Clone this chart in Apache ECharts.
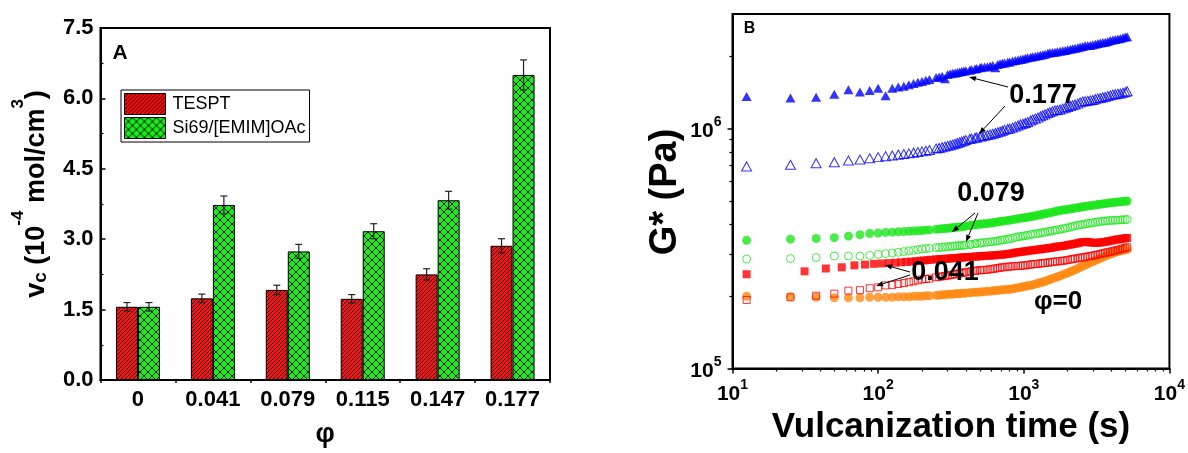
<!DOCTYPE html>
<html><head><meta charset="utf-8">
<script src="https://cdn.jsdelivr.net/npm/echarts@6/dist/echarts.min.js"></script>
<style>html,body{margin:0;padding:0;background:#fff}#c{width:1188px;height:453px}</style>
</head><body><div id="c"></div>
<script>
// ---------- Panel A data ----------
const PHI_LABELS = ['0', '0.041', '0.079', '0.115', '0.147', '0.177'];
const TESPT = [1.56, 1.74, 1.92, 1.73, 2.25, 2.86];
const TESPT_ERR = [0.09, 0.09, 0.10, 0.09, 0.12, 0.15];
const SI69 = [1.56, 3.73, 2.74, 3.17, 3.83, 6.50];
const SI69_ERR = [0.09, 0.19, 0.15, 0.16, 0.19, 0.32];
const Y_A_MIN = 0, Y_A_MAX = 7.5, Y_A_STEP = 1.5;

// ---------- Panel B data: time in s, G* in units of 1e5 Pa ----------
const G_UNIT = 1e5;
const X_MAJOR_B = [10, 100, 1000, 10000];
const X_MINOR_B = [20, 30, 40, 50, 60, 70, 80, 90, 200, 300, 400, 500, 600, 700, 800, 900, 2000, 3000, 4000, 5000, 6000, 7000, 8000, 9000];
const Y_MAJOR_B = [1e5, 1e6];
const Y_MINOR_B = [2e5, 3e5, 4e5, 5e5, 6e5, 7e5, 8e5, 9e5, 2e6];

const TIMES_EARLY = [12.5, 25, 37.5, 50, 62.5, 75, 87.5, 100, 112.5, 125, 137.5, 150, 162.5, 175, 187.5, 200, 212.5, 225];
const TIMES_EARLY_SQ = [12.5, 31.25, 43.75, 56.25, 68.75, 81.25, 93.75, 106.25, 118.75, 131.25, 143.75, 156.25, 168.75, 181.25, 193.75, 206.25, 218.75, 231.25];
const TIMES_LATE = [250, 262.5, 275, 287.5, 300, 312.5, 325, 337.5, 350, 362.5, 375,
  387.5, 400, 425, 437.5, 462.5, 475, 500, 512.5, 537.5, 562.5, 587.5,
  612.5, 637.5, 662.5, 687.5, 712.5, 737.5, 775, 800, 837.5, 875, 912.5,
  950, 987.5, 1025, 1062.5, 1112.5, 1150, 1200, 1250, 1300, 1350, 1400,
  1462.5, 1512.5, 1575, 1637.5, 1700, 1775, 1850, 1925, 2000, 2087.5, 2162.5,
  2250, 2350, 2437.5, 2537.5, 2637.5, 2750, 2862.5, 2975, 3100, 3225, 3350,
  3487.5, 3625, 3775, 3925, 4087.5, 4250, 4425, 4600, 4787.5, 4975, 5125];

// phi = 0.177, filled triangles
const G_177_FILLED = [13.6, 13.4, 13.5, 13.9, 14.5, 14.2, 14.4, 14.7, 13.7, 14.7, 14.9, 15.0, 15.2, 15.4, 15.6, 15.7, 15.9, 16.0,
  16.3, 16.4, 16.5, 16.1, 16.8, 16.9, 17.0, 17.05, 17.1, 17.2, 17.3,
  17.35, 17.4, 17.5, 17.6, 17.7, 17.8, 17.9, 18.0, 18.05, 18.1, 18.2,
  18.3, 17.9, 18.5, 18.6, 18.7, 18.75, 18.9, 18.95, 19.1, 19.2, 19.3,
  19.4, 19.5, 19.6, 19.7, 19.8, 19.9, 20.0, 20.1, 20.2, 20.3, 20.4,
  20.6, 20.7, 20.75, 20.8, 20.9, 21.0, 21.1, 21.15, 21.3, 21.4, 21.5,
  21.6, 21.7, 21.85, 21.95, 22.1, 22.15, 22.2, 22.35, 22.45, 22.6, 22.7,
  22.8, 22.9, 23.05, 23.25, 23.4, 23.5, 23.6, 23.7, 23.9, 24.05, 24.1];
// phi = 0.177, open triangles
const G_177_OPEN = [6.95, 7.06, 7.17, 7.24, 7.36, 7.43, 7.52, 7.60, 7.67, 7.72, 7.78, 7.83, 7.88, 7.93, 7.98, 8.03, 8.08, 8.13,
  8.25, 8.30, 8.36, 8.41, 8.47, 8.52, 8.58, 8.64, 8.70, 8.76, 8.82,
  8.88, 8.95, 9.04, 9.08, 9.15, 9.18, 9.25, 9.28, 9.33, 9.39, 9.45,
  9.51, 9.58, 9.65, 9.72, 9.79, 9.87, 9.96, 10.0, 10.1, 10.2, 10.3,
  10.4, 10.47, 10.55, 10.65, 10.8, 10.9, 11.0, 11.1, 11.25, 11.35, 11.45,
  11.6, 11.7, 11.8, 11.9, 11.95, 12.0, 12.1, 12.2, 12.3, 12.4, 12.5,
  12.6, 12.7, 12.85, 12.95, 13.0, 13.05, 13.1, 13.15, 13.25, 13.35, 13.4,
  13.5, 13.55, 13.65, 13.75, 13.85, 13.9, 13.95, 14.0, 14.1, 14.2, 14.3];
// phi = 0.079, filled circles
const G_079_FILLED = [3.42, 3.46, 3.48, 3.51, 3.56, 3.61, 3.65, 3.67, 3.69, 3.70, 3.71, 3.72, 3.73, 3.74, 3.75, 3.76, 3.77, 3.78,
  3.80, 3.81, 3.82, 3.83, 3.84, 3.85, 3.86, 3.87, 3.88, 3.89, 3.90,
  3.91, 3.92, 3.94, 3.95, 3.97, 3.98, 3.99, 4.00, 4.01, 4.02, 4.04,
  4.05, 4.07, 4.08, 4.10, 4.11, 4.12, 4.14, 4.15, 4.17, 4.19, 4.21,
  4.23, 4.24, 4.26, 4.27, 4.29, 4.31, 4.33, 4.35, 4.37, 4.39, 4.41,
  4.44, 4.46, 4.48, 4.51, 4.53, 4.55, 4.57, 4.59, 4.60, 4.62, 4.64,
  4.66, 4.68, 4.70, 4.72, 4.73, 4.75, 4.77, 4.78, 4.80, 4.82, 4.83,
  4.85, 4.87, 4.88, 4.90, 4.91, 4.93, 4.94, 4.95, 4.96, 4.98, 4.99];
// phi = 0.079, open circles
const G_079_OPEN = [2.86, 2.87, 2.90, 2.94, 2.94, 2.94, 2.96, 2.99, 3.01, 3.03, 3.05, 3.07, 3.09, 3.11, 3.13, 3.15, 3.16, 3.17,
  3.19, 3.19, 3.20, 3.21, 3.22, 3.22, 3.23, 3.24, 3.25, 3.25, 3.26,
  3.26, 3.27, 3.28, 3.29, 3.31, 3.32, 3.33, 3.34, 3.35, 3.36, 3.37,
  3.38, 3.39, 3.40, 3.42, 3.43, 3.44, 3.46, 3.47, 3.49, 3.52, 3.54,
  3.55, 3.56, 3.58, 3.59, 3.61, 3.63, 3.64, 3.65, 3.67, 3.68, 3.70,
  3.72, 3.73, 3.75, 3.77, 3.78, 3.80, 3.82, 3.84, 3.86, 3.88, 3.91,
  3.93, 3.95, 3.97, 3.98, 4.00, 4.02, 4.03, 4.05, 4.07, 4.08, 4.09,
  4.11, 4.12, 4.13, 4.14, 4.14, 4.15, 4.15, 4.16, 4.17, 4.17, 4.18];
// phi = 0.041, filled squares (own early sampling times)
const G_041_FILLED = [2.47, 2.54, 2.61, 2.64, 2.69, 2.71, 2.73, 2.74, 2.75, 2.76, 2.77, 2.78, 2.79, 2.80, 2.81, 2.82, 2.83, 2.84,
  2.85, 2.855, 2.86, 2.865, 2.87, 2.875, 2.88, 2.885, 2.89, 2.895, 2.90,
  2.905, 2.91, 2.915, 2.92, 2.925, 2.93, 2.935, 2.94, 2.945, 2.95, 2.955,
  2.96, 2.965, 2.97, 2.975, 2.98, 2.99, 3.00, 3.01, 3.02, 3.04, 3.05,
  3.06, 3.07, 3.08, 3.09, 3.10, 3.11, 3.12, 3.13, 3.14, 3.15, 3.16,
  3.17, 3.18, 3.19, 3.21, 3.22, 3.23, 3.24, 3.25, 3.27, 3.28, 3.30,
  3.31, 3.33, 3.35, 3.36, 3.37, 3.37, 3.35, 3.34, 3.34, 3.34, 3.35,
  3.36, 3.37, 3.39, 3.40, 3.42, 3.44, 3.45, 3.46, 3.48, 3.49, 3.50];
// phi = 0.041, open squares
const G_041_OPEN = [1.93, 1.98, 2.01, 2.05, 2.11, 2.12, 2.16, 2.18, 2.22, 2.23, 2.25, 2.27, 2.29, 2.31, 2.33, 2.35, 2.36, 2.37,
  2.40, 2.41, 2.42, 2.43, 2.44, 2.45, 2.46, 2.47, 2.48, 2.49, 2.50,
  2.51, 2.52, 2.53, 2.54, 2.55, 2.56, 2.565, 2.57, 2.575, 2.58, 2.59,
  2.60, 2.61, 2.62, 2.63, 2.64, 2.645, 2.655, 2.66, 2.665, 2.67, 2.675,
  2.68, 2.685, 2.69, 2.70, 2.71, 2.72, 2.725, 2.73, 2.74, 2.75, 2.755,
  2.76, 2.77, 2.78, 2.79, 2.795, 2.80, 2.81, 2.82, 2.83, 2.845, 2.86,
  2.87, 2.88, 2.895, 2.905, 2.915, 2.93, 2.94, 2.955, 2.97, 2.985, 3.00,
  3.02, 3.035, 3.05, 3.065, 3.085, 3.10, 3.12, 3.14, 3.16, 3.18, 3.20];
// phi = 0, filled circles
const G_0 = [2.00, 1.99, 1.98, 1.97, 1.97, 1.97, 1.98, 1.98, 1.98, 1.98, 1.99, 1.99, 1.99, 2.00, 2.00, 2.00, 2.01, 2.01,
  2.02, 2.02, 2.03, 2.03, 2.04, 2.04, 2.04, 2.05, 2.05, 2.05, 2.06,
  2.06, 2.06, 2.07, 2.07, 2.08, 2.08, 2.08, 2.09, 2.09, 2.10, 2.10,
  2.11, 2.11, 2.12, 2.12, 2.13, 2.13, 2.14, 2.14, 2.15, 2.16, 2.17,
  2.18, 2.19, 2.20, 2.21, 2.22, 2.23, 2.25, 2.26, 2.28, 2.29, 2.31,
  2.33, 2.35, 2.37, 2.39, 2.41, 2.43, 2.46, 2.48, 2.50, 2.53, 2.55,
  2.58, 2.61, 2.64, 2.67, 2.70, 2.73, 2.76, 2.79, 2.82, 2.85, 2.88,
  2.91, 2.94, 2.97, 3.00, 3.02, 3.05, 3.07, 3.09, 3.11, 3.12, 3.13];

const TIMES = TIMES_EARLY.concat(TIMES_LATE);
const TIMES_SQ = TIMES_EARLY_SQ.concat(TIMES_LATE);
function pairs(ts, gs) { return gs.map((g, i) => [ts[i], g * G_UNIT]); }

// ---------- styling helpers ----------
const FONT = "'Liberation Sans', Arial, Helvetica, sans-serif";
function hatch(bg, period, cross) {
  const c = document.createElement('canvas');
  c.width = period; c.height = period;
  const g = c.getContext('2d');
  g.fillStyle = bg; g.fillRect(0, 0, period, period);
  g.strokeStyle = '#000'; g.lineWidth = 0.9;
  g.beginPath();
  g.moveTo(-1, period + 1); g.lineTo(period + 1, -1);
  g.moveTo(-1, 1); g.lineTo(1, -1);
  g.moveTo(period - 1, period + 1); g.lineTo(period + 1, period - 1);
  if (cross) {
    g.moveTo(-1, -1); g.lineTo(period + 1, period + 1);
    g.moveTo(period - 1, -1); g.lineTo(period + 1, 1);
    g.moveTo(-1, period - 1); g.lineTo(1, period + 1);
  }
  g.stroke();
  return c;
}
const RED_PAT = { image: hatch('#ff1010', 4, false), repeat: 'repeat' };
const GREEN_PAT = { image: hatch('#1aeb1a', 8, true), repeat: 'repeat' };

function errRender(offset) {
  return function (params, api) {
    const i = api.value(0), v = api.value(1), e = api.value(2);
    const top = api.coord([i, v + e]), bot = api.coord([i, v - e]);
    const x = top[0] + offset, hw = 3.5;
    const st = { stroke: '#222', lineWidth: 1.2 };
    return { type: 'group', children: [
      { type: 'line', shape: { x1: x, y1: top[1], x2: x, y2: bot[1] }, style: st },
      { type: 'line', shape: { x1: x - hw, y1: top[1], x2: x + hw, y2: top[1] }, style: st },
      { type: 'line', shape: { x1: x - hw, y1: bot[1], x2: x + hw, y2: bot[1] }, style: st }
    ] };
  };
}
function powLabel(v) {
  const e = Math.log10(v), r = Math.round(e);
  if (Math.abs(e - r) > 1e-6) return '';
  return '{b|10}{s|' + r + '}';
}
const POW_RICH = {
  b: { fontSize: 21, fontWeight: 'bold', fontFamily: FONT, color: '#000', lineHeight: 26, verticalAlign: 'bottom' },
  s: { fontSize: 14, fontWeight: 'bold', fontFamily: FONT, color: '#000', lineHeight: 14, verticalAlign: 'top' }
};
function arrow(x1, y1, x2, y2) {
  const a = Math.atan2(y2 - y1, x2 - x1), L = 7, W = 2.6;
  const bx = x2 - L * Math.cos(a), by = y2 - L * Math.sin(a);
  return [
    { type: 'line', z: 100, shape: { x1: x1, y1: y1, x2: bx, y2: by }, style: { stroke: '#000', lineWidth: 1 } },
    { type: 'polygon', z: 100, shape: { points: [[x2, y2], [bx - W * Math.sin(a), by + W * Math.cos(a)], [bx + W * Math.sin(a), by - W * Math.cos(a)]] }, style: { fill: '#000' } }
  ];
}
function label(text, x, y, size, extra) {
  return Object.assign({ type: 'text', z: 100, x: x, y: y, style: { text: text, fill: '#000', font: 'bold ' + size + 'px ' + FONT, align: 'center', verticalAlign: 'middle' } }, extra || {});
}

const axisLineStyle = { lineStyle: { color: '#000', width: 2 } };
const tickFont = { fontSize: 22, fontWeight: 'bold', fontFamily: FONT, color: '#000' };

const graphics = [
  label('A', 120, 53, 21),
  label('B', 749.5, 29, 16),
  label('0.177', 1043, 96, 27),
  label('0.079', 991, 194, 27),
  label('0.041', 945, 273, 27),
  label('φ=0', 1058, 302, 26),
  {
    type: 'text', z: 100, x: 30, y: 194, rotation: Math.PI / 2,
    style: {
      text: '{b|v}{sub|c}{b| (10}{sup|-4}{b| mol/cm}{sup|3}{b|)}',
      align: 'center', verticalAlign: 'middle', fill: '#000',
      rich: {
        b: { fontSize: 27, fontWeight: 'bold', fontFamily: FONT, fill: '#000', lineHeight: 40, verticalAlign: 'bottom' },
        sub: { fontSize: 19, fontWeight: 'bold', fontFamily: FONT, fill: '#000', lineHeight: 19, verticalAlign: 'bottom' },
        sup: { fontSize: 17, fontWeight: 'bold', fontFamily: FONT, fill: '#000', lineHeight: 17, verticalAlign: 'top' }
      }
    }
  },
  label('G* (Pa)', 666, 192, 38, { rotation: Math.PI / 2 })
].concat(
  arrow(1008, 87, 969, 77),
  arrow(1005, 106, 979, 134),
  arrow(975, 213, 952, 232),
  arrow(978, 213, 966, 242),
  arrow(910, 272, 885, 265),
  arrow(910, 275, 876, 286)
);

const option = {
  animation: false,
  backgroundColor: '#fff',
  grid: [
    { left: 100.5, top: 28, width: 449.5, height: 360, show: true, borderColor: '#000', borderWidth: 2, backgroundColor: 'transparent' },
    { left: 732.5, top: 14, width: 438, height: 354.5, show: true, borderColor: '#000', borderWidth: 2, backgroundColor: 'transparent' }
  ],
  legend: {
    data: ['TESPT', 'Si69/[EMIM]OAc'],
    orient: 'vertical', left: 121, top: 90,
    itemWidth: 41, itemHeight: 21, itemGap: 2,
    padding: [3, 4, 3, 3],
    borderColor: '#000', borderWidth: 1, backgroundColor: '#fff',
    icon: 'rect',
    itemStyle: { borderColor: '#000', borderWidth: 1 },
    textStyle: { fontSize: 18, fontFamily: FONT, color: '#000', padding: [0, 0, 0, 2] },
    selectedMode: false
  },
  xAxis: [
    {
      gridIndex: 0, type: 'category', data: PHI_LABELS,
      axisLine: axisLineStyle,
      axisTick: { show: true, inside: false, length: 3, lineStyle: { color: '#000', width: 1.5 } },
      axisLabel: Object.assign({ margin: 9 }, tickFont),
      splitLine: { show: false },
      name: 'φ', nameLocation: 'middle', nameGap: 41,
      nameTextStyle: { fontSize: 27, fontWeight: 'bold', fontFamily: FONT, color: '#000' }
    },
    {
      gridIndex: 1, type: 'log', logBase: 10, min: 10, max: 10000, position: 'bottom',
      axisLine: axisLineStyle,
      axisTick: { show: true, inside: false, length: 5, customValues: X_MAJOR_B, lineStyle: { color: '#000', width: 1.5 } },
      axisLabel: { customValues: X_MAJOR_B, formatter: powLabel, rich: POW_RICH, margin: 10 },
      splitLine: { show: false }, minorTick: { show: false },
      name: 'Vulcanization time (s)', nameLocation: 'middle', nameGap: 41,
      nameTextStyle: { fontSize: 35, fontWeight: 'bold', fontFamily: FONT, color: '#000' }
    },
    {
      gridIndex: 1, type: 'log', logBase: 10, min: 10, max: 10000, position: 'bottom',
      axisLine: { show: false },
      axisTick: { show: true, inside: false, length: 3, customValues: X_MINOR_B, lineStyle: { color: '#000', width: 1.2 } },
      axisLabel: { show: false }, splitLine: { show: false }
    }
  ],
  yAxis: [
    {
      gridIndex: 0, type: 'value', min: Y_A_MIN, max: Y_A_MAX, interval: Y_A_STEP,
      axisLine: Object.assign({ show: true }, axisLineStyle),
      axisTick: { show: true, inside: true, length: 5, lineStyle: { color: '#000', width: 1.5 } },
      minorTick: { show: true, splitNumber: 2, length: 3, lineStyle: { color: '#000', width: 1.2 } },
      axisLabel: Object.assign({ margin: 7, formatter: v => v.toFixed(1) }, tickFont),
      splitLine: { show: false }
    },
    {
      gridIndex: 1, type: 'log', logBase: 10, min: 1e5, max: 3e6, position: 'left',
      axisLine: Object.assign({ show: true }, axisLineStyle),
      axisTick: { show: true, inside: false, length: 5, customValues: Y_MAJOR_B, lineStyle: { color: '#000', width: 1.5 } },
      axisLabel: { customValues: Y_MAJOR_B, formatter: powLabel, rich: POW_RICH, margin: 11 },
      splitLine: { show: false }, minorTick: { show: false }
    },
    {
      gridIndex: 1, type: 'log', logBase: 10, min: 1e5, max: 3e6, position: 'left',
      axisLine: { show: false },
      axisTick: { show: true, inside: false, length: 3, customValues: Y_MINOR_B, lineStyle: { color: '#000', width: 1.2 } },
      axisLabel: { show: false }, splitLine: { show: false }
    }
  ],
  series: [
    { name: 'TESPT', type: 'bar', xAxisIndex: 0, yAxisIndex: 0, data: TESPT, barWidth: 22, barGap: '0%',
      itemStyle: { color: RED_PAT, borderColor: '#000', borderWidth: 1 } },
    { name: 'Si69/[EMIM]OAc', type: 'bar', xAxisIndex: 0, yAxisIndex: 0, data: SI69, barWidth: 22, barGap: '0%',
      itemStyle: { color: GREEN_PAT, borderColor: '#000', borderWidth: 1 } },
    { name: 'errT', type: 'custom', xAxisIndex: 0, yAxisIndex: 0, z: 5, renderItem: errRender(-11),
      data: TESPT.map((v, i) => [i, v, TESPT_ERR[i]]) },
    { name: 'errS', type: 'custom', xAxisIndex: 0, yAxisIndex: 0, z: 5, renderItem: errRender(11),
      data: SI69.map((v, i) => [i, v, SI69_ERR[i]]) },

    { name: 'phi0', type: 'scatter', xAxisIndex: 1, yAxisIndex: 1, symbol: 'circle', symbolSize: 9,
      itemStyle: { color: '#ff8a14' }, data: pairs(TIMES, G_0) },
    { name: 'p041f', type: 'scatter', xAxisIndex: 1, yAxisIndex: 1, symbol: 'rect', symbolSize: 8,
      itemStyle: { color: '#ff0000' }, data: pairs(TIMES_SQ, G_041_FILLED) },
    { name: 'p041o', type: 'scatter', xAxisIndex: 1, yAxisIndex: 1, symbol: 'rect', symbolSize: 7,
      itemStyle: { color: 'rgba(255,255,255,0)', borderColor: '#ff0000', borderWidth: 1 }, data: pairs(TIMES, G_041_OPEN) },
    { name: 'p079o', type: 'scatter', xAxisIndex: 1, yAxisIndex: 1, symbol: 'circle', symbolSize: 8,
      itemStyle: { color: 'rgba(255,255,255,0)', borderColor: '#1ee61e', borderWidth: 1 }, data: pairs(TIMES, G_079_OPEN) },
    { name: 'p079f', type: 'scatter', xAxisIndex: 1, yAxisIndex: 1, symbol: 'circle', symbolSize: 9,
      itemStyle: { color: '#1ee61e' }, data: pairs(TIMES, G_079_FILLED) },
    { name: 'p177o', type: 'scatter', xAxisIndex: 1, yAxisIndex: 1, symbol: 'triangle', symbolSize: [10, 9],
      itemStyle: { color: 'rgba(255,255,255,0)', borderColor: '#0000ff', borderWidth: 1 }, data: pairs(TIMES, G_177_OPEN) },
    { name: 'p177f', type: 'scatter', xAxisIndex: 1, yAxisIndex: 1, symbol: 'triangle', symbolSize: [10, 9],
      itemStyle: { color: '#0000ff' }, data: pairs(TIMES, G_177_FILLED) }
  ],
  graphic: graphics
};

const chart = echarts.init(document.getElementById('c'), null, { renderer: 'canvas' });
chart.setOption(option);
</script>
</body></html>
